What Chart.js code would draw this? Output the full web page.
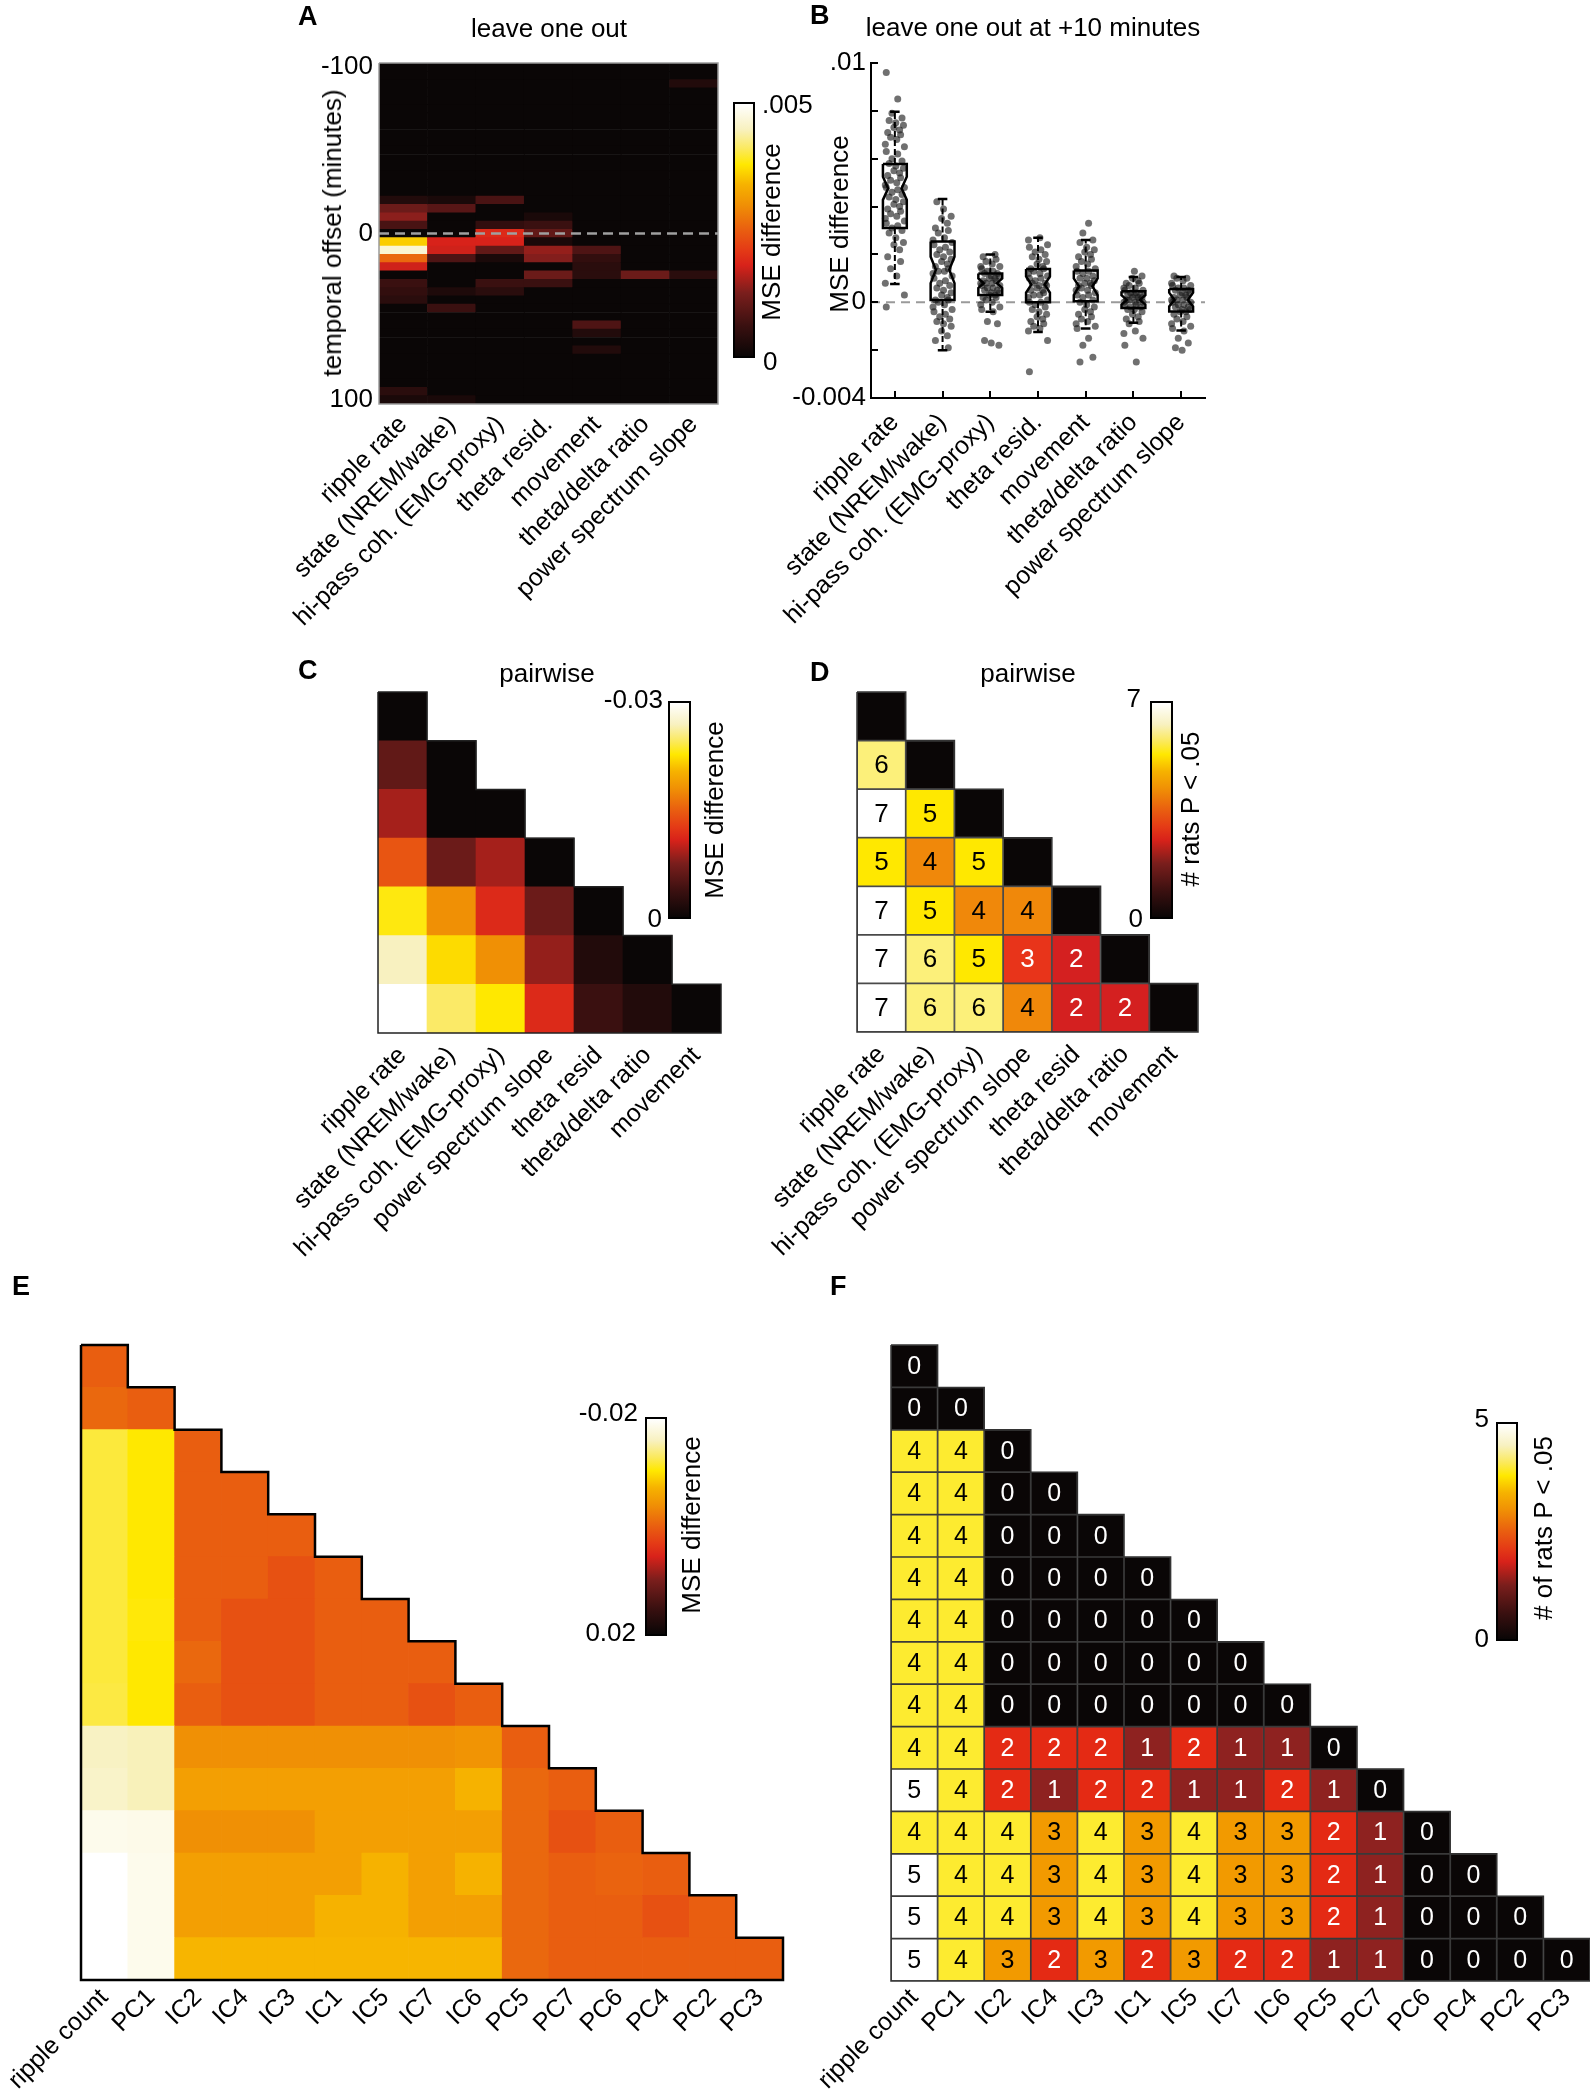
<!DOCTYPE html>
<html><head><meta charset="utf-8"><title>figure</title>
<script src="https://cdn.jsdelivr.net/npm/chart.js@4.4.1/dist/chart.umd.min.js"></script>
<style>
html,body{margin:0;padding:0;background:#fff;}
#page{position:relative;width:1590px;height:2100px;overflow:hidden;font-family:'Liberation Sans',Arial,sans-serif;color:#000;background:#fff;}
canvas{position:absolute;left:0;top:0;}
.t{position:absolute;white-space:nowrap;line-height:1;}
.cb{position:absolute;box-sizing:border-box;border:2px solid #000;}
</style></head>
<body><div id="page"></div>
<script>
// ================= DATA =================
// Panel A: leave one out (MSE difference per temporal offset bin)
const A_labels = ['ripple rate','state (NREM/wake)','hi-pass coh. (EMG-proxy)','theta resid.','movement','theta/delta ratio','power spectrum slope'];
const A_offsets = [-100,-95,-90,-85,-80,-75,-70,-65,-60,-55,-50,-45,-40,-35,-30,-25,-20,-15,-10,-5,0,5,10,15,20,25,30,35,40,45,50,55,60,65,70,75,80,85,90,95,100];
const A_ticks = [-100, 0, 100];
const A_max = 0.005;
const A_ripple     = [0,0,0,0,0, 0,0,0,0,0, 0,0,0,0,0, 0,0.0003,0.0011,0.00135,0.00075, 0,0.0036,0.00465,0.0026,0.00175, 0,0.0006,0.0005,0.0004,0, 0,0,0,0,0, 0,0,0,0,0.0004, 0.0002];
const A_state      = [0,0,0,0,0, 0,0,0,0,0, 0,0,0,0,0, 0,0.0002,0.0009,0,0, 0,0.0018,0.00175,0.0008,0, 0,0,0.00025,0,0.0006, 0,0,0,0,0, 0,0,0,0,0, 0.0002];
const A_hipass     = [0,0,0,0,0, 0,0,0,0,0, 0,0,0,0,0, 0,0.00075,0,0,0.0005, 0.0019,0.0018,0.001,0.0002,0, 0,0.0006,0.0004,0,0, 0,0,0,0,0, 0,0,0,0,0, 0];
const A_theta      = [0,0,0,0,0, 0,0,0,0,0, 0,0,0,0,0, 0,0,0,0.0002,0.0006, 0.001,0.0002,0.0014,0.0013,0, 0.0011,0.0006,0,0,0, 0,0,0,0,0, 0,0,0,0,0, 0];
const A_movement   = [0,0,0,0,0, 0,0,0,0,0, 0,0,0,0,0, 0,0,0,0,0, 0,0,0.0008,0.0005,0.0004, 0.0004,0,0,0,0, 0,0.0008,0.0003,0,0.0003, 0,0,0,0,0, 0];
const A_thetaDelta = [0,0,0,0,0, 0,0,0,0,0, 0,0,0,0,0, 0,0,0,0,0, 0,0,0,0,0, 0.0011,0,0,0,0, 0,0,0,0,0, 0,0,0,0,0, 0];
const A_pss        = [0,0,0.0003,0,0, 0,0,0,0,0, 0,0,0,0,0, 0,0,0,0,0, 0,0,0,0,0, 0.0004,0,0,0,0, 0,0,0,0,0, 0,0,0,0,0, 0];

// Panel B: leave one out at +10 minutes (per-session MSE differences)
const B_labels = A_labels;
const B_yTicks = [-0.004,-0.002,0,0.002,0.004,0.006,0.008,0.01];
const B_ripple = [0.0096,0.0085,0.0079,0.0077,0.0076,0.0075,0.0074,0.0073,0.0072,0.0071,0.007,0.0069,0.0068,0.0066,0.0065,0.0063,0.0062,0.006,0.0059,0.0058,0.0057,0.0056,0.0055,0.0054,0.0053,0.0052,0.0051,0.005,0.0049,0.0048,0.0048,0.0047,0.0046,0.0045,0.0044,0.0043,0.0042,0.0041,0.004,0.0039,0.0038,0.0037,0.0036,0.0035,0.0034,0.0033,0.0032,0.0031,0.003,0.0029,0.0027,0.0025,0.0024,0.0022,0.0019,0.0017,0.0014,0.0011,0.0008,0.0003,-0.0002];
const B_state = [0.0042,0.0039,0.0036,0.0035,0.0033,0.0031,0.003,0.0029,0.0027,0.0026,0.0025,0.0024,0.0023,0.0022,0.0021,0.002,0.0019,0.0018,0.0017,0.0016,0.0015,0.0014,0.0013,0.0013,0.0012,0.0011,0.001,0.0009,0.0008,0.0007,0.0006,0.0005,0.0004,0.0003,0.0002,0.0001,0.0001,0,-0.0001,-0.0002,-0.0003,-0.0004,-0.0005,-0.0006,-0.0007,-0.0008,-0.0009,-0.001,-0.0012,-0.0014,-0.0016,-0.0019];
const B_hipass = [0.002,0.0019,0.0018,0.0017,0.0016,0.0015,0.0015,0.0014,0.0013,0.0013,0.0012,0.0012,0.0011,0.0011,0.001,0.001,0.0009,0.0009,0.0008,0.0008,0.0008,0.0007,0.0007,0.0006,0.0006,0.0005,0.0005,0.0004,0.0004,0.0003,0.0003,0.0002,0.0002,0.0001,0,-0.0001,-0.0002,-0.0003,-0.0004,-0.0008,-0.0009,-0.0016,-0.0017,-0.0018];
const B_theta = [0.0027,0.0026,0.0024,0.0023,0.0022,0.0021,0.002,0.0019,0.0018,0.0017,0.0016,0.0015,0.0014,0.0014,0.0013,0.0012,0.0012,0.0011,0.001,0.001,0.0009,0.0008,0.0008,0.0007,0.0007,0.0006,0.0005,0.0005,0.0004,0.0003,0.0003,0.0002,0.0001,0,0,-0.0001,-0.0002,-0.0003,-0.0004,-0.0005,-0.0006,-0.0007,-0.0008,-0.0009,-0.001,-0.0011,-0.0012,-0.0016,-0.0029];
const B_movement = [0.0033,0.0029,0.0026,0.0025,0.0023,0.0022,0.0021,0.002,0.0019,0.0018,0.0017,0.0016,0.0015,0.0014,0.0013,0.0013,0.0012,0.0011,0.001,0.001,0.0009,0.0008,0.0008,0.0007,0.0007,0.0006,0.0005,0.0005,0.0004,0.0003,0.0003,0.0002,0.0001,0,-0.0001,-0.0002,-0.0003,-0.0004,-0.0005,-0.0006,-0.0007,-0.0008,-0.0009,-0.001,-0.0011,-0.0015,-0.0018,-0.0023,-0.0025];
const B_thetaDelta = [0.0013,0.0011,0.001,0.0009,0.0008,0.0008,0.0007,0.0006,0.0006,0.0005,0.0005,0.0004,0.0004,0.0003,0.0003,0.0003,0.0002,0.0002,0.0002,0.0001,0.0001,0.0001,0,0,0,-0.0001,-0.0001,-0.0002,-0.0002,-0.0003,-0.0003,-0.0004,-0.0005,-0.0006,-0.0007,-0.0008,-0.0009,-0.0012,-0.0013,-0.0015,-0.0018,-0.0025];
const B_pss = [0.0011,0.001,0.001,0.0009,0.0008,0.0007,0.0007,0.0006,0.0006,0.0005,0.0005,0.0004,0.0004,0.0003,0.0003,0.0002,0.0002,0.0001,0.0001,0.0001,0,0,-0.0001,-0.0001,-0.0002,-0.0002,-0.0003,-0.0003,-0.0004,-0.0004,-0.0005,-0.0006,-0.0007,-0.0008,-0.0009,-0.001,-0.0011,-0.0012,-0.0015,-0.0017,-0.0019,-0.002];
const B_q1      = [0.0031, 0.0001, 0.0003, 0.0, 0.00004, -0.00024, -0.00038];
const B_median  = [0.00476, 0.00136, 0.0008, 0.00074, 0.00067, 0.0001, 0.0001];
const B_q3      = [0.00578, 0.00254, 0.0012, 0.00139, 0.00133, 0.00046, 0.00056];
const B_notchLo = [0.00428, 0.0008, 0.0006, 0.0004, 0.0003, -0.0001, -0.00017];
const B_notchHi = [0.00525, 0.0019, 0.001, 0.00108, 0.001, 0.0003, 0.0004];
const B_whiskLo = [0.00076, -0.002, -0.0004, -0.00124, -0.0011, -0.00086, -0.00118];
const B_whiskHi = [0.00796, 0.00432, 0.002, 0.0027, 0.0026, 0.00106, 0.00106];

// Panel C: pairwise MSE difference (lower triangle)
const C_labels = ['ripple rate','state (NREM/wake)','hi-pass coh. (EMG-proxy)','power spectrum slope','theta resid','theta/delta ratio','movement'];
const C_min = -0.03;
const C_vals = [
  [0],
  [-0.006, 0],
  [-0.009, 0, 0],
  [-0.0144, -0.0066, -0.009, 0],
  [-0.0231, -0.018, -0.0114, -0.0066, 0],
  [-0.027, -0.0222, -0.018, -0.0084, -0.0018, 0],
  [-0.03, -0.0249, -0.0228, -0.0114, -0.0036, -0.0018, 0]
];

// Panel D: pairwise # rats P < .05
const D_labels = C_labels;
const D_vals = [
  [null],
  [6, null],
  [7, 5, null],
  [5, 4, 5, null],
  [7, 5, 4, 4, null],
  [7, 6, 5, 3, 2, null],
  [7, 6, 6, 4, 2, 2, null]
];

// Panel E: MSE difference, components
const E_labels = ['ripple count','PC1','IC2','IC4','IC3','IC1','IC5','IC7','IC6','PC5','PC7','PC6','PC4','PC2','PC3'];
const E_range = [-0.02, 0.02];
const E_vals = [
  [0],
  [-0.0008, 0],
  [-0.012, -0.0104, 0],
  [-0.012, -0.0104, 0, 0],
  [-0.012, -0.0104, 0, 0, 0],
  [-0.012, -0.0104, 0, 0, 0.0012, 0],
  [-0.012, -0.0106, 0, 0.0012, 0.0012, 0, 0],
  [-0.012, -0.0104, -0.0008, 0.0012, 0.0012, 0, 0, 0],
  [-0.0122, -0.0104, 0, 0.0012, 0.0012, 0, 0, 0.0012, 0],
  [-0.0162, -0.0158, -0.004, -0.004, -0.004, -0.004, -0.004, -0.004, -0.0044, 0],
  [-0.0166, -0.0158, -0.0054, -0.0054, -0.0054, -0.0054, -0.0054, -0.0054, -0.0072, -0.0008, 0],
  [-0.0188, -0.0186, -0.004, -0.004, -0.004, -0.0054, -0.0054, -0.0054, -0.0054, -0.0008, 0.0012, 0],
  [-0.02, -0.0188, -0.0054, -0.0054, -0.0054, -0.0054, -0.0072, -0.0054, -0.0072, -0.0008, 0, -0.0004, 0],
  [-0.02, -0.0188, -0.0054, -0.0054, -0.0054, -0.0072, -0.0072, -0.0054, -0.0054, -0.0008, 0, 0, 0.0012, 0],
  [-0.02, -0.0188, -0.0074, -0.0074, -0.0074, -0.0074, -0.0074, -0.0074, -0.0074, -0.0008, 0, 0, 0, 0, 0]
];

// Panel F: # of rats P < .05, components
const F_labels = E_labels;
const F_vals = [
  [0],
  [0, 0],
  [4, 4, 0],
  [4, 4, 0, 0],
  [4, 4, 0, 0, 0],
  [4, 4, 0, 0, 0, 0],
  [4, 4, 0, 0, 0, 0, 0],
  [4, 4, 0, 0, 0, 0, 0, 0],
  [4, 4, 0, 0, 0, 0, 0, 0, 0],
  [4, 4, 2, 2, 2, 1, 2, 1, 1, 0],
  [5, 4, 2, 1, 2, 2, 1, 1, 2, 1, 0],
  [4, 4, 4, 3, 4, 3, 4, 3, 3, 2, 1, 0],
  [5, 4, 4, 3, 4, 3, 4, 3, 3, 2, 1, 0, 0],
  [5, 4, 4, 3, 4, 3, 4, 3, 3, 2, 1, 0, 0, 0],
  [5, 4, 3, 2, 3, 2, 3, 2, 2, 1, 1, 0, 0, 0, 0]
];

// ================= STYLE =================
const HOT = [[0,'#0a0606'],[0.12,'#3a1010'],[0.25,'#7a1e1c'],[0.36,'#d8221a'],[0.42,'#e43a16'],[0.5,'#e95e10'],[0.6,'#f09005'],[0.68,'#f6b200'],[0.76,'#ffe800'],[0.82,'#fbe95a'],[0.9,'#f8f1c0'],[1,'#ffffff']];
const D_palette = ['#0a0606','#8e2220','#d42020','#e8341a','#f0880a','#ffe800','#fcf07a','#ffffff'];
const F_palette = ['#0a0606','#8e2220','#e42a14','#f29a00','#fdeb30','#ffffff'];
const JIT = [-0.18, 0.06, -0.06, 0.15, -0.12, 0.02, 0.18, -0.02, 0.1, -0.15, 0.12, -0.09, 0.04, -0.2, 0.2];

function hx(h){return [parseInt(h.substr(1,2),16),parseInt(h.substr(3,2),16),parseInt(h.substr(5,2),16)];}
function hot(t){
  t = Math.max(0, Math.min(1, t));
  for (let i = 1; i < HOT.length; i++) {
    if (t <= HOT[i][0]) {
      const a = HOT[i-1], b = HOT[i]; const f = (t - a[0]) / (b[0] - a[0]);
      const ca = hx(a[1]), cb = hx(b[1]);
      return 'rgb(' + ca.map((v, k) => Math.round(v + (cb[k] - v) * f)).join(',') + ')';
    }
  }
  return HOT[HOT.length-1][1];
}
const GRAD = 'linear-gradient(to top,' + HOT.map(s => s[1] + ' ' + (s[0]*100) + '%').join(',') + ')';

const page = document.getElementById('page');
Chart.defaults.font.family = "'Liberation Sans', Arial, sans-serif";
Chart.defaults.font.size = 26;
Chart.defaults.color = '#000';
Chart.defaults.animation = false;
Chart.defaults.responsive = false;
Chart.defaults.devicePixelRatio = 1;
Chart.defaults.events = [];
Chart.defaults.plugins.legend.display = false;
Chart.defaults.plugins.tooltip.enabled = false;

function newCanvas(){
  const c = document.createElement('canvas');
  c.width = 1590; c.height = 2100;
  c.style.width = '1590px'; c.style.height = '2100px';
  page.appendChild(c);
  return c.getContext('2d');
}
function padding(L, T, R, B, yw, xh){ return {left: L - yw, top: T, right: 1590 - R, bottom: 2100 - B - xh}; }

function labelAxis(labels, min, max, pos, xh, pad, fs){
  return {
    type:'linear', min:min, max:max, offset:false,
    grid:{display:false, drawTicks:false}, border:{display:false},
    afterBuildTicks: s => { s.ticks = labels.map((_, i) => ({value: pos(i)})); },
    afterFit: s => { s.height = xh; },
    ticks:{autoSkip:false, minRotation:45, maxRotation:45, padding:pad, font:{size:fs}, callback:(v, i) => labels[i]}
  };
}

function makeCellText(fs, colorFn){
  return { id:'cellText', afterDatasetsDraw(chart){
    const meta = chart.getDatasetMeta(0); const ds = chart.data.datasets[0]; const ctx = chart.ctx;
    ctx.save(); ctx.font = fs + "px 'Liberation Sans', Arial, sans-serif"; ctx.textAlign = 'center'; ctx.textBaseline = 'middle';
    meta.data.forEach((el, i) => { const v = ds.data[i].v; if (v === null) return;
      ctx.fillStyle = colorFn(v); ctx.fillText(String(v), el.x, (el.y + el.base) / 2 + 1); });
    ctx.restore(); } };
}

// ================= PANEL A =================
(function(){
  const cols = [A_ripple, A_state, A_hipass, A_theta, A_movement, A_thetaDelta, A_pss];
  const half = (A_offsets[1] - A_offsets[0]) / 2;
  const yMin = A_offsets[0] - half, yMax = A_offsets[A_offsets.length-1] + half;
  const cells = cols.flatMap((col, c) => col.map((v, i) => ({x: c + 0.5, y: [A_offsets[i] - half, A_offsets[i] + half], v})));
  const n = A_labels.length;
  new Chart(newCanvas(), {
    type:'bar',
    data:{datasets:[
      {data:cells, backgroundColor: ctx => hot(ctx.raw.v / A_max), borderWidth:0, categoryPercentage:1, barPercentage:1},
      {type:'line', data:[{x:0,y:0},{x:n,y:0}], borderColor:'#a0a0a0', borderWidth:2.5, borderDash:[10,6], pointRadius:0, order:-2},
      {type:'line', data:[{x:0,y:yMin},{x:n,y:yMin},{x:n,y:yMax},{x:0,y:yMax},{x:0,y:yMin}], borderColor:'#9a9a9a', borderWidth:1.5, pointRadius:0, order:-1, clip:false}
    ]},
    options:{
      layout:{padding: padding(379, 63, 718, 404, 60, 320)},
      scales:{
        x: labelAxis(A_labels, 0, n, i => i + 0.5, 320, 6, 25),
        y: {type:'linear', min:yMin, max:yMax, reverse:true, grid:{display:false, drawTicks:false}, border:{display:false},
            afterBuildTicks: s => { s.ticks = A_ticks.map(v => ({value:v})); },
            afterFit: s => { s.width = 60; },
            ticks:{padding:6, font:{size:26}, callback: v => String(v)}}
      }
    }
  });
})();

// ================= PANEL B =================
(function(){
  const series = [B_ripple, B_state, B_hipass, B_theta, B_movement, B_thetaDelta, B_pss];
  const pts = series.flatMap((arr, c) => arr.map((v, i) => ({x: c + 1 + JIT[(i + c * 4) % JIT.length], y: v})));
  const w = 0.25, wn = 0.14, cap = 0.1;
  const boxes = [], whisk = [], caps = [];
  for (let c = 0; c < series.length; c++) {
    const X = c + 1;
    boxes.push({x:X-w,y:B_q3[c]},{x:X+w,y:B_q3[c]},{x:X+w,y:B_notchHi[c]},{x:X+wn,y:B_median[c]},{x:X+w,y:B_notchLo[c]},{x:X+w,y:B_q1[c]},
               {x:X-w,y:B_q1[c]},{x:X-w,y:B_notchLo[c]},{x:X-wn,y:B_median[c]},{x:X-w,y:B_notchHi[c]},{x:X-w,y:B_q3[c]},{x:X,y:null});
    whisk.push({x:X,y:B_q3[c]},{x:X,y:B_whiskHi[c]},{x:X,y:null},{x:X,y:B_q1[c]},{x:X,y:B_whiskLo[c]},{x:X,y:null});
    caps.push({x:X-cap,y:B_whiskHi[c]},{x:X+cap,y:B_whiskHi[c]},{x:X,y:null},{x:X-cap,y:B_whiskLo[c]},{x:X+cap,y:B_whiskLo[c]},{x:X,y:null});
  }
  const yLab = {'0.01':'.01','0':'0','-0.004':'-0.004'};
  const inTicks = { id:'inTicks', afterDraw(chart){
    const {ctx, chartArea:a, scales:{x, y}} = chart;
    ctx.save(); ctx.strokeStyle = '#000'; ctx.lineWidth = 2; ctx.beginPath();
    y.ticks.forEach(t => { const p = Math.round(y.getPixelForValue(t.value)); ctx.moveTo(a.left, p); ctx.lineTo(a.left + 7, p); });
    x.ticks.forEach(t => { const p = Math.round(x.getPixelForValue(t.value)); ctx.moveTo(p, a.bottom); ctx.lineTo(p, a.bottom - 7); });
    ctx.stroke(); ctx.restore(); } };
  new Chart(newCanvas(), {
    type:'scatter',
    data:{datasets:[
      {data:pts, pointRadius:3.5, pointBackgroundColor:'rgba(25,25,25,0.62)', pointBorderWidth:0, order:5},
      {data:[{x:0.5,y:0},{x:7.5,y:0}], showLine:true, borderColor:'#9a9a9a', borderWidth:2, borderDash:[9,6], pointRadius:0, order:6},
      {data:whisk, showLine:true, borderColor:'#000', borderWidth:2, borderDash:[6,3], pointRadius:0, spanGaps:false, order:2},
      {data:caps, showLine:true, borderColor:'#000', borderWidth:2.5, pointRadius:0, spanGaps:false, order:1},
      {data:boxes, showLine:true, borderColor:'#000', borderWidth:2.5, pointRadius:0, spanGaps:false, borderJoinStyle:'miter', order:0}
    ]},
    options:{
      layout:{padding: padding(871, 63, 1205, 398, 90, 320)},
      scales:{
        x: Object.assign(labelAxis(B_labels, 0.5, 7.5, i => i + 1, 320, 10, 25), {border:{display:true, color:'#000', width:2}}),
        y: {type:'linear', min:-0.004, max:0.01, grid:{display:false, drawTicks:false}, border:{display:true, color:'#000', width:2},
            afterBuildTicks: s => { s.ticks = B_yTicks.map(v => ({value:v})); },
            afterFit: s => { s.width = 90; },
            ticks:{padding:5, font:{size:26}, callback: v => { const k = String(+v.toFixed(4)); return yLab[k] || ''; }}}
      }
    },
    plugins:[inTicks]
  });
})();

// ================= HEATMAPS C-F =================
function heatmap(o){
  const n = o.labels.length;
  const cells = [];
  o.rows.forEach((row, r) => row.forEach((v, c) => cells.push({x: c + 0.5, y: [r, r + 1], v: v})));
  const outline = [{x:0, y:0}];
  for (let i = 0; i < n; i++) { outline.push({x:i+1, y:i}); outline.push({x:i+1, y:i+1}); }
  outline.push({x:0, y:n}); outline.push({x:0, y:0});
  new Chart(newCanvas(), {
    type:'bar',
    data:{datasets:[
      {data:cells, backgroundColor: ctx => o.color(ctx.raw.v), borderColor:o.gridColor || 'rgba(0,0,0,0)', borderWidth:o.gridWidth || 0, borderSkipped:false, categoryPercentage:1, barPercentage:1},
      {type:'line', data:outline, borderColor:o.lineColor, borderWidth:o.lineWidth, pointRadius:0, fill:false, tension:0, order:-1, clip:false, borderJoinStyle:'miter'}
    ]},
    options:{
      layout:{padding: padding(o.L, o.T, o.R, o.B, 0, o.xh)},
      scales:{
        x: labelAxis(o.labels, 0, n, i => i + 0.5, o.xh, o.pad, o.fs),
        y: {type:'linear', min:0, max:n, reverse:true, display:false}
      }
    },
    plugins: o.text ? [o.text] : []
  });
}

heatmap({labels:C_labels, rows:C_vals, color: v => hot(v / C_min), L:378, T:692, R:721, B:1033, xh:320, pad:8, fs:25, lineColor:'#222', lineWidth:1.5});
heatmap({labels:D_labels, rows:D_vals, color: v => v === null ? D_palette[0] : D_palette[v], gridColor:'#4a4a4a', gridWidth:1.2,
         L:857, T:692, R:1198, B:1032, xh:320, pad:8, fs:25, lineColor:'#333', lineWidth:1.5,
         text: makeCellText(26, v => v >= 4 ? '#000' : '#fff')});
heatmap({labels:E_labels, rows:E_vals, color: v => hot((E_range[1] - v) / (E_range[1] - E_range[0])), L:81, T:1345, R:783, B:1980, xh:120, pad:3, fs:25, lineColor:'#000', lineWidth:2.5});
heatmap({labels:F_labels, rows:F_vals, color: v => F_palette[v], gridColor:'#3a3a3a', gridWidth:1.2,
         L:891, T:1345, R:1590, B:1981, xh:119, pad:2, fs:25, lineColor:'#333', lineWidth:1.5,
         text: makeCellText(25, v => v >= 3 ? '#000' : '#fff')});

// ================= COLORBARS & TEXT =================
function cbar(x, y, w, h){ const d = document.createElement('div'); d.className = 'cb';
  Object.assign(d.style, {left:x+'px', top:y+'px', width:w+'px', height:h+'px', background:GRAD}); page.appendChild(d); }
function txt(s, x, y, o){
  o = o || {}; const d = document.createElement('div'); d.className = 't'; d.textContent = s;
  const fs = o.size || 26; d.style.fontSize = fs + 'px'; if (o.bold) d.style.fontWeight = 'bold';
  if (o.rot) { d.style.left = x + 'px'; d.style.top = y + 'px'; d.style.transform = 'translate(-50%,-50%) rotate(-90deg)'; }
  else {
    d.style.top = (y - 0.8465 * fs) + 'px';
    if (o.align === 'center') { d.style.left = x + 'px'; d.style.transform = 'translateX(-50%)'; }
    else if (o.align === 'right') { d.style.right = (1590 - x) + 'px'; }
    else d.style.left = x + 'px';
  }
  page.appendChild(d);
}
cbar(733, 102, 22, 256);
cbar(668, 701, 23, 218);
cbar(1150, 701, 23, 218);
cbar(645, 1417, 22, 219);
cbar(1496, 1422, 22, 219);

txt('A', 298, 26, {bold:true, size:27});
txt('B', 810, 25, {bold:true, size:27});
txt('C', 298, 680, {bold:true, size:27});
txt('D', 810, 682, {bold:true, size:27});
txt('E', 12, 1296, {bold:true, size:27});
txt('F', 830, 1296, {bold:true, size:27});

txt('leave one out', 549, 37, {align:'center'});
txt('leave one out at +10 minutes', 1033, 36, {align:'center'});
txt('pairwise', 547, 682, {align:'center'});
txt('pairwise', 1028, 682, {align:'center'});

txt('temporal offset (minutes)', 332, 233, {rot:true});
txt('MSE difference', 839, 224, {rot:true});
txt('MSE difference', 771, 232, {rot:true});
txt('MSE difference', 714, 810, {rot:true});
txt('# rats P < .05', 1190, 809, {rot:true});
txt('MSE difference', 691, 1525, {rot:true});
txt('# of rats P < .05', 1543, 1528, {rot:true});

txt('.005', 762, 113);
txt('0', 763, 370);
txt('-0.03', 663, 708, {align:'right'});
txt('0', 662, 927, {align:'right'});
txt('7', 1141, 707, {align:'right'});
txt('0', 1143, 927, {align:'right'});
txt('-0.02', 638, 1421, {align:'right'});
txt('0.02', 636, 1641, {align:'right'});
txt('5', 1489, 1427, {align:'right'});
txt('0', 1489, 1647, {align:'right'});
</script>
</body></html>
